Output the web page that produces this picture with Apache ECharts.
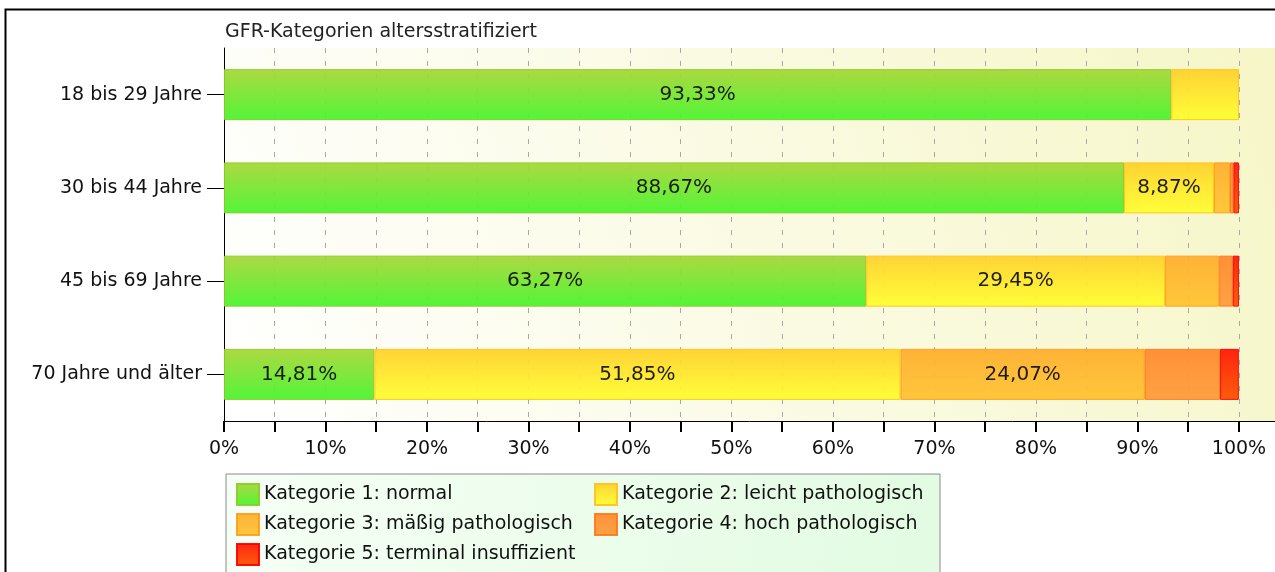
<!DOCTYPE html>
<html>
<head>
<meta charset="utf-8">
<script src="https://cdn.jsdelivr.net/npm/echarts@6/dist/echarts.min.js"></script>
<style>
  html, body { margin: 0; padding: 0; background: #fff; }
  #chart { width: 1275px; height: 572px; }
</style>
</head>
<body>
<div id="chart"></div>
<script>
  // Daten
  const categories = ['18 bis 29 Jahre', '30 bis 44 Jahre', '45 bis 69 Jahre', '70 Jahre und älter']
  const seriesNames = [
    'Kategorie 1: normal',
    'Kategorie 2: leicht pathologisch',
    'Kategorie 3: mäßig pathologisch',
    'Kategorie 4: hoch pathologisch',
    'Kategorie 5: terminal insuffizient'
  ]
  const kat1 = [93.33, 88.67, 63.27, 14.81]
  const kat2 = [6.67, 8.87, 29.45, 51.85]
  const kat3 = [0, 1.58, 5.33, 24.07]
  const kat4 = [0, 0.33, 1.35, 7.41]
  const kat5 = [0, 0.55, 0.6, 1.85]
  const xTicks = [0, 10, 20, 30, 40, 50, 60, 70, 80, 90, 100]

  // Farben (oben -> unten, Rand)
  const colors = [
    ['#a8d636', '#48f52c', '#8ccc2a'],
    ['#ffd02a', '#ffff2e', '#ffc419'],
    ['#ffae2c', '#ffc431', '#ff9d1c'],
    ['#ff8a2e', '#ff9c3a', '#ff7a1c'],
    ['#ff1800', '#ff5200', '#ff0000']
  ]
  const allData = [kat1, kat2, kat3, kat4, kat5]

  let chart = echarts.init(document.getElementById('chart'))

  const grad = (c) => new echarts.graphic.LinearGradient(0, 0, 0, 1, [
    { offset: 0, color: c[0] },
    { offset: 1, color: c[1] }
  ])

  const series = seriesNames.map((name, i) => ({
    name: name,
    type: 'bar',
    stack: 'total',
    barWidth: 51,
    // leere Segmente nicht zeichnen
    data: allData[i].map(v => v === 0 ? '-' : v),
    itemStyle: {
      color: grad(colors[i]),
      borderColor: colors[i][2],
      borderWidth: 1,
      opacity: 0.94
    },
    label: {
      show: true,
      position: 'inside',
      color: '#111',
      fontFamily: 'DejaVu Sans',
      fontSize: 20,
      formatter: (p) => p.value >= 8 ? p.value.toFixed(2).replace('.', ',') + '%' : ''
    }
  }))

  // Legende in zwei Spalten
  const legendBase = {
    orient: 'vertical',
    top: 483,
    padding: 0,
    itemGap: 7,
    itemWidth: 22,
    itemHeight: 21,
    icon: 'rect',
    textStyle: {
      fontFamily: 'DejaVu Sans',
      fontSize: 19,
      color: '#111'
    }
  }

  chart.setOption({
    animation: false,
    title: {
      text: 'GFR-Kategorien altersstratifiziert',
      left: 220,
      top: 18,
      textStyle: {
        fontFamily: 'DejaVu Sans',
        fontSize: 19,
        fontWeight: 'normal',
        color: '#222'
      }
    },
    legend: [
      Object.assign({}, legendBase, { left: 236, data: [seriesNames[0], seriesNames[2], seriesNames[4]] }),
      Object.assign({}, legendBase, { left: 594, data: [seriesNames[1], seriesNames[3]] })
    ],
    graphic: [
      {
        type: 'rect',
        z: -1,
        shape: { x: 226, y: 474, width: 714, height: 130 },
        style: {
          fill: new echarts.graphic.LinearGradient(0, 0, 1, 1, [
            { offset: 0, color: '#f6fff6' },
            { offset: 1, color: '#e2fbe2' }
          ]),
          stroke: '#8a8a8a',
          lineWidth: 1
        }
      },
      {
        type: 'polyline',
        shape: { points: [[5.5, 600], [5.5, 9.5], [1300, 9.5]] },
        style: { stroke: '#000', lineWidth: 2, fill: null }
      }
    ],
    grid: {
      left: 224,
      right: 0,
      top: 48,
      bottom: 151,
      show: true,
      borderWidth: 0,
      backgroundColor: new echarts.graphic.LinearGradient(0, 1, 1, 0, [
        { offset: 0, color: '#ffffff' },
        { offset: 1, color: '#f6f6c8' }
      ])
    },
    xAxis: {
      type: 'value',
      min: 0,
      max: 103.55,
      interval: 5,
      axisLine: { show: true, lineStyle: { color: '#000', width: 1 } },
      axisTick: { show: true, length: 11, lineStyle: { color: '#000', width: 2 } },
      axisLabel: {
        margin: 19,
        fontFamily: 'DejaVu Sans',
        fontSize: 19,
        color: '#111',
        showMaxLabel: false,
        formatter: (v) => xTicks.indexOf(v) >= 0 ? v + '%' : ''
      },
      splitLine: {
        show: true,
        lineStyle: { color: '#a8a8a8', width: 1, type: [5, 8] }
      }
    },
    yAxis: {
      type: 'category',
      inverse: true,
      data: categories,
      axisLine: { show: true, lineStyle: { color: '#000', width: 1 } },
      axisTick: { show: true, alignWithLabel: true, length: 17, lineStyle: { color: '#000' } },
      axisLabel: {
        margin: 22,
        fontFamily: 'DejaVu Sans',
        fontSize: 19,
        color: '#111'
      },
      splitLine: { show: false }
    },
    series: series
  })

  window.addEventListener('resize', () => {
    chart.resize()
  })
</script>
</body>
</html>
